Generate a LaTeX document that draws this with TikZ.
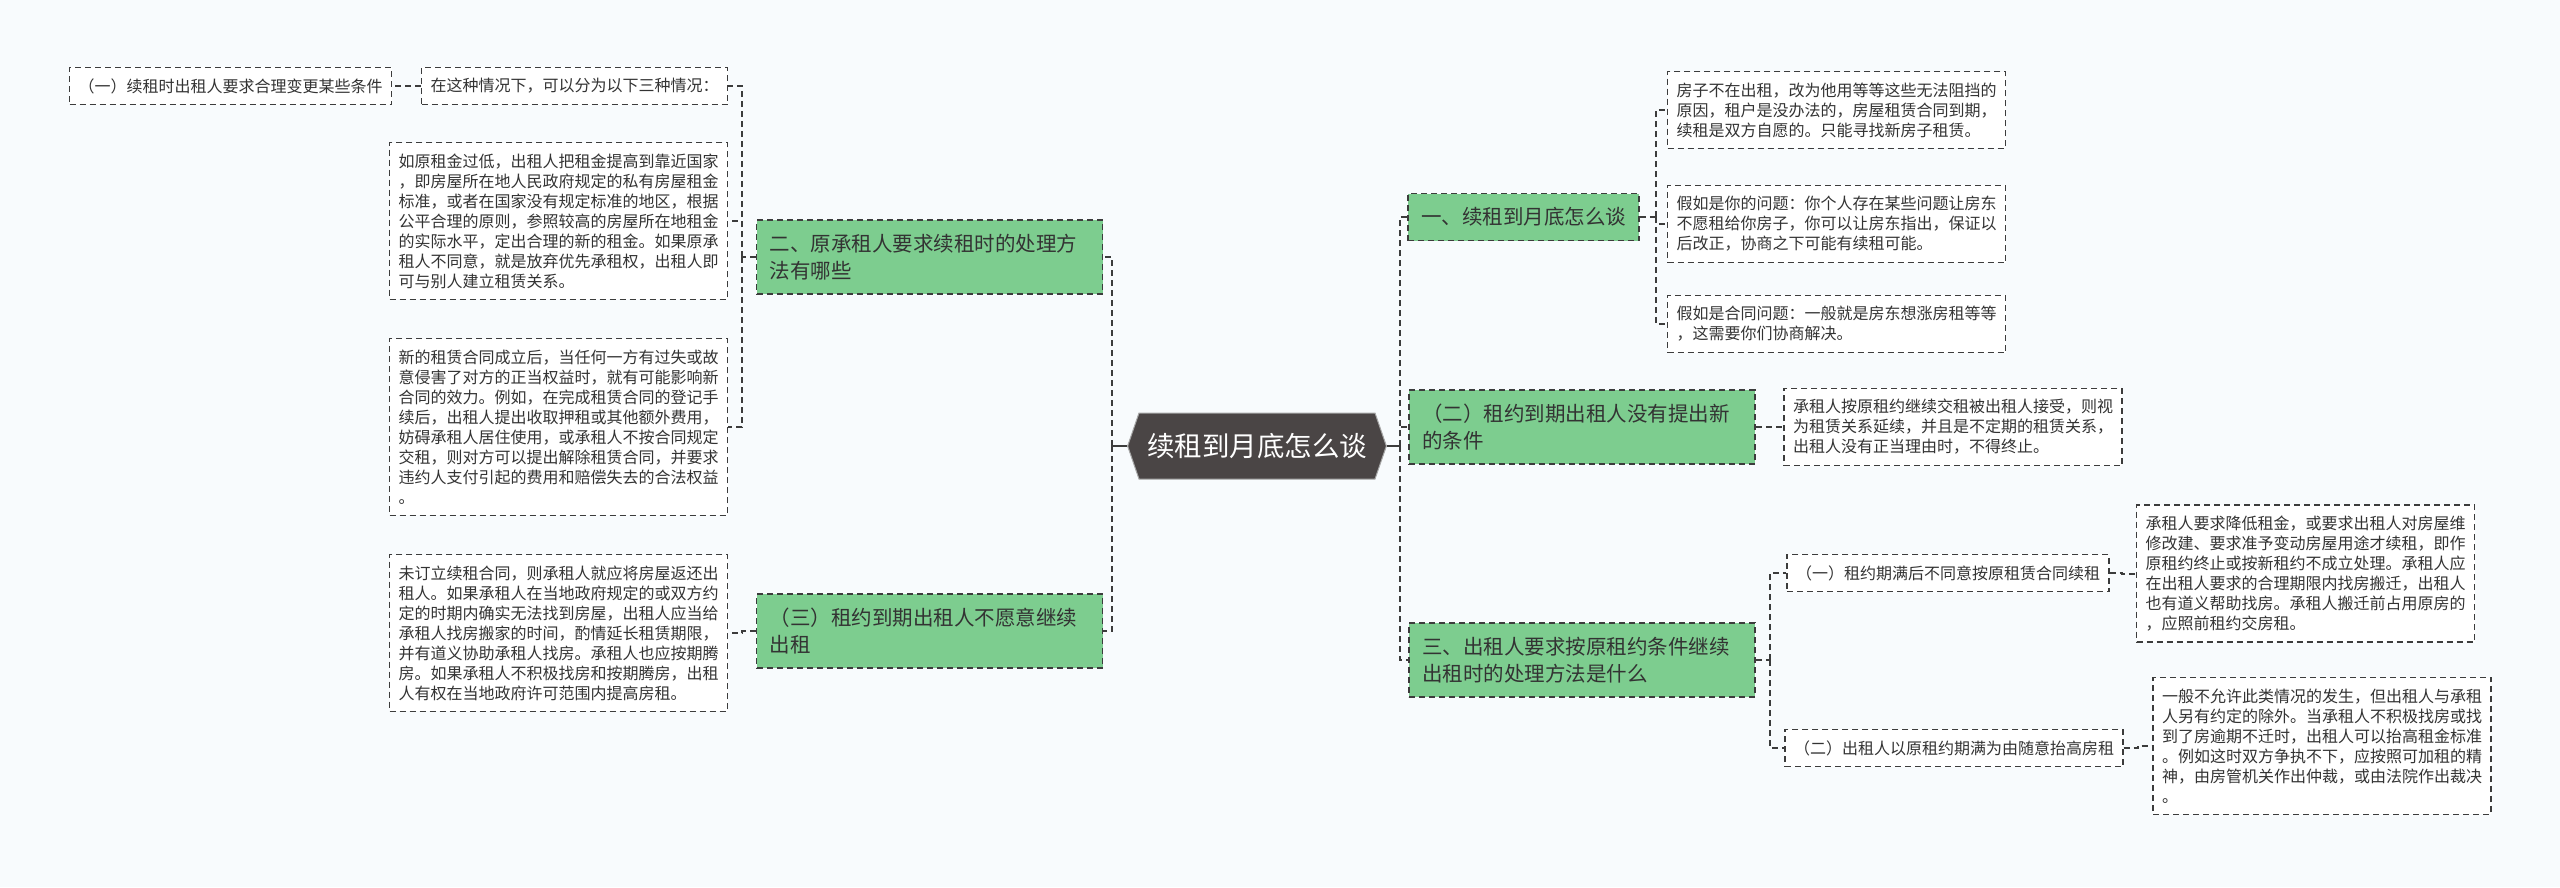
\documentclass[tikz,border=0pt]{standalone}
\usepackage{fontspec}
\setmainfont{Noto Sans CJK SC}
\usetikzlibrary{shapes.symbols}
\definecolor{topicgreen}{HTML}{7DCD8F}
\definecolor{rootgrey}{HTML}{4A4545}
\definecolor{linegrey}{HTML}{3C3C3C}
\definecolor{paper}{HTML}{F8FBFD}
\definecolor{inkdark}{HTML}{333333}
\begin{document}
\begin{tikzpicture}[x=1pt,y=-1pt,
  rootnode/.style={signal,signal to=east and west,signal pointer angle=142,fill=rootgrey,draw=gray!70,line width=1pt,
    text=white,inner xsep=8pt,inner ysep=0pt,minimum height=66pt,font=\fontsize{27.5}{33}\selectfont},
  topic/.style={draw=linegrey,dashed,dash pattern=on 6pt off 4pt,line width=1.6pt,fill=topicgreen,text=inkdark,
    align=left,inner xsep=13pt,inner ysep=14pt,font=\fontsize{20.5}{27}\selectfont},
  widetopic/.style={topic,text width=320pt},
  note/.style={draw=linegrey,dash pattern=on 6pt off 4pt,line width=1.4pt,fill=white,text=inkdark,
    align=left,inner xsep=9pt,inner ysep=11pt,font=\fontsize{16}{20}\selectfont},
  link/.style={draw=linegrey,line width=2pt,dash pattern=on 6pt off 4pt},
  stem/.style={draw=linegrey,line width=2pt}]
  \useasboundingbox[fill=paper] (0,0) rectangle (2560,887);

  \node[rootnode] (root) at (1257,446) {续租到月底怎么谈};

  \node[widetopic] (two) at (929.5,257) {二、原承租人要求续租时的处理方\\法有哪些};
  \node[widetopic] (three) at (929.5,631) {（三）租约到期出租人不愿意继续\\出租};
  \node[topic] (one) at (1523.5,217) {一、续租到月底怎么谈};
  \node[widetopic] (second) at (1582,427) {（二）租约到期出租人没有提出新\\的条件};
  \node[widetopic] (req) at (1582,660) {三、出租人要求按原租约条件继续\\出租时的处理方法是什么};

  \node[note] (cases) at (574.5,86) {在这种情况下，可以分为以下三种情况：};
  \node[note] (change) at (230.5,86) {（一）续租时出租人要求合理变更某些条件};
  \node[note] (lowrent) at (558.5,221) {如原租金过低，出租人把租金提高到靠近国家\\，即房屋所在地人民政府规定的私有房屋租金\\标准，或者在国家没有规定标准的地区，根据\\公平合理的原则，参照较高的房屋所在地租金\\的实际水平，定出合理的新的租金。如果原承\\租人不同意，就是放弃优先承租权，出租人即\\可与别人建立租赁关系。};
  \node[note] (newlease) at (558.5,427) {新的租赁合同成立后，当任何一方有过失或故\\意侵害了对方的正当权益时，就有可能影响新\\合同的效力。例如，在完成租赁合同的登记手\\续后，出租人提出收取押租或其他额外费用，\\妨碍承租人居住使用，或承租人不按合同规定\\交租，则对方可以提出解除租赁合同，并要求\\违约人支付引起的费用和赔偿失去的合法权益\\。};
  \node[note] (noleasing) at (558.5,633) {未订立续租合同，则承租人就应将房屋返还出\\租人。如果承租人在当地政府规定的或双方约\\定的时期内确实无法找到房屋，出租人应当给\\承租人找房搬家的时间，酌情延长租赁期限，\\并有道义协助承租人找房。承租人也应按期腾\\房。如果承租人不积极找房和按期腾房，出租\\人有权在当地政府许可范围内提高房租。};

  \node[note] (reasonA) at (1836.5,110) {房子不在出租，改为他用等等这些无法阻挡的\\原因，租户是没办法的，房屋租赁合同到期，\\续租是双方自愿的。只能寻找新房子租赁。};
  \node[note] (reasonB) at (1836.5,224) {假如是你的问题：你个人存在某些问题让房东\\不愿租给你房子，你可以让房东指出，保证以\\后改正，协商之下可能有续租可能。};
  \node[note] (reasonC) at (1836.5,324) {假如是合同问题：一般就是房东想涨房租等等\\，这需要你们协商解决。};
  \node[note] (goon) at (1953,427) {承租人按原租约继续交租被出租人接受，则视\\为租赁关系延续，并且是不定期的租赁关系，\\出租人没有正当理由时，不得终止。};
  \node[note] (refuse) at (1948,573) {（一）租约期满后不同意按原租赁合同续租};
  \node[note] (raise) at (1954,748) {（二）出租人以原租约期满为由随意抬高房租};
  \node[note] (refusetext) at (2305.5,573.5) {承租人要求降低租金，或要求出租人对房屋维\\修改建、要求准予变动房屋用途才续租，即作\\原租约终止或按新租约不成立处理。承租人应\\在出租人要求的合理期限内找房搬迁，出租人\\也有道义帮助找房。承租人搬迁前占用原房的\\，应照前租约交房租。};
  \node[note] (raisetext) at (2322,746) {一般不允许此类情况的发生，但出租人与承租\\人另有约定的除外。当承租人不积极找房或找\\到了房逾期不迁时，出租人可以抬高租金标准\\。例如这时双方争执不下，应按照可加租的精\\神，由房管机关作出仲裁，或由法院作出裁决\\。};

  \draw[stem] (root.west) -- ++(-15,0) coordinate (rootL);
  \draw[stem] (root.east) -- ++(13,0) coordinate (rootR);
  \draw[link] (rootL) |- (two.east);
  \draw[link] (rootL) |- (three.east);
  \draw[link] (rootR) |- (one.west);
  \draw[link] (rootR) |- (second.west);
  \draw[link] (rootR) |- (req.west);

  \draw[link] (two.west) -- ++(-14,0) coordinate (twoL);
  \draw[link] (twoL) |- (cases.east);
  \draw[link] (twoL) |- (lowrent.east);
  \draw[link] (twoL) |- (newlease.east);
  \draw[link] (cases.west) -- (change.east);
  \draw[link] (three.west) -- ++(-14,0) |- (noleasing.east);

  \draw[link] (one.east) -- ++(16,0) coordinate (oneR);
  \draw[link] (oneR) |- (reasonA.west);
  \draw[link] (oneR) |- (reasonB.west);
  \draw[link] (oneR) |- (reasonC.west);
  \draw[link] (second.east) -- ++(14,0) |- (goon.west);
  \draw[link] (req.east) -- ++(14,0) coordinate (reqR);
  \draw[link] (reqR) |- (refuse.west);
  \draw[link] (reqR) |- (raise.west);
  \draw[link] (refuse.east) -- ++(12,0) |- (refusetext.west);
  \draw[link] (raise.east) -- ++(14,0) |- (raisetext.west);
\end{tikzpicture}
\end{document}
